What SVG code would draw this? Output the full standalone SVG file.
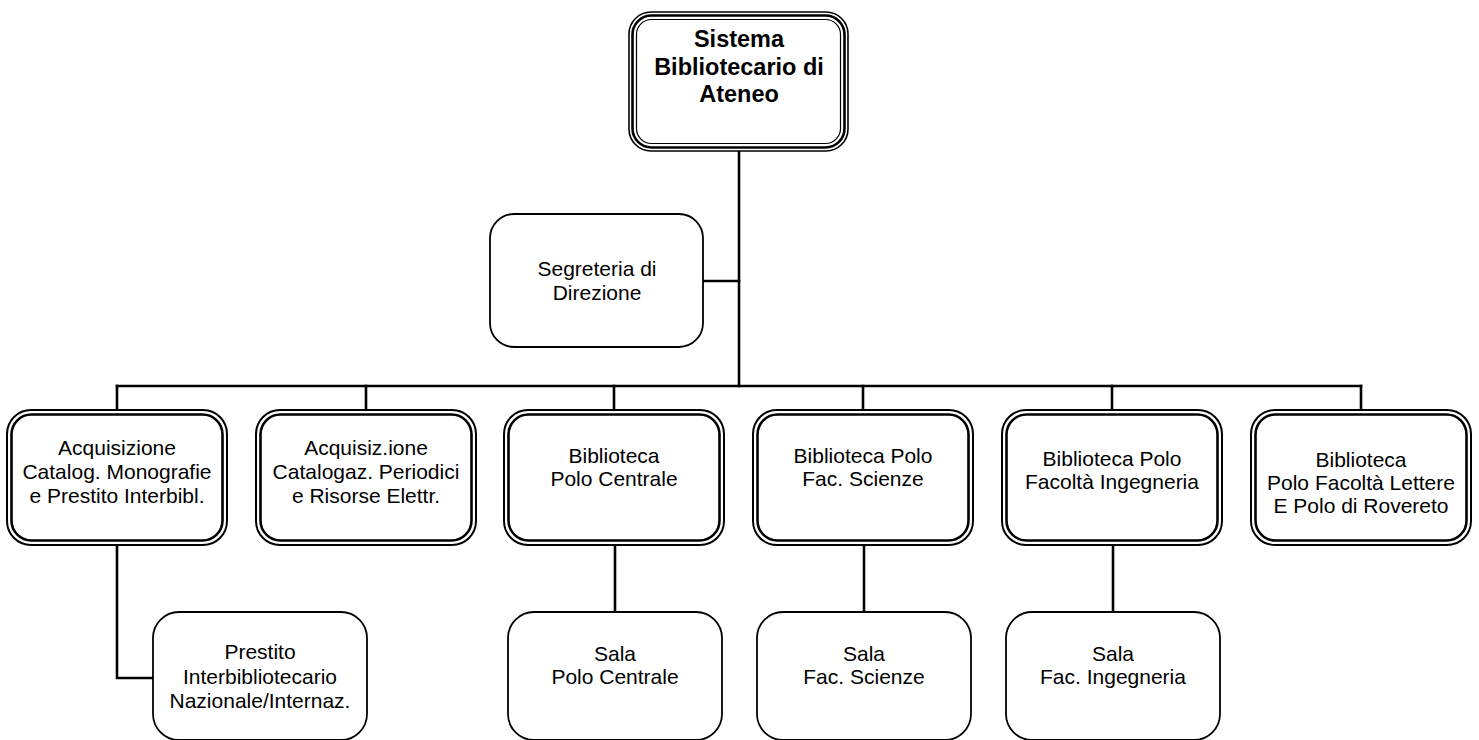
<svg xmlns="http://www.w3.org/2000/svg" width="1479" height="740" viewBox="0 0 1479 740">
  <style>
    .bg { fill: #ffffff; }
    .conn { fill: none; stroke: #000; stroke-width: 2.6; stroke-linecap: square; }
    .single { fill: #fff; stroke: #000; stroke-width: 1.8; }
    .dbl-out { fill: #fff; stroke: #000; stroke-width: 2; }
    .dbl-in { fill: none; stroke: #000; stroke-width: 2.6; }
    .tri-out { fill: #fff; stroke: #000; stroke-width: 1.6; }
    .tri-mid { fill: none; stroke: #000; stroke-width: 2.6; }
    .tri-in { fill: none; stroke: #000; stroke-width: 1.2; }
    text { font-family: "Liberation Sans", Arial, sans-serif; font-size: 21px; fill: #000; text-anchor: middle; }
    text.bold { font-weight: bold; font-size: 23.5px; }
  </style>

  <rect class="bg" x="0" y="0" width="1479" height="740"/>

  <!-- connectors -->
  <g id="connectors">
    <line class="conn" x1="739" y1="152" x2="739" y2="386"/>
    <line class="conn" x1="703" y1="281" x2="739" y2="281"/>
    <line class="conn" x1="117" y1="386" x2="1361" y2="386"/>
    <line class="conn" x1="117" y1="386" x2="117" y2="410"/>
    <line class="conn" x1="366" y1="386" x2="366" y2="410"/>
    <line class="conn" x1="614" y1="386" x2="614" y2="410"/>
    <line class="conn" x1="863" y1="386" x2="863" y2="410"/>
    <line class="conn" x1="1112" y1="386" x2="1112" y2="410"/>
    <line class="conn" x1="1361" y1="386" x2="1361" y2="410"/>
    <polyline class="conn" points="117,545 117,678 153,678"/>
    <line class="conn" x1="615" y1="545" x2="615" y2="612"/>
    <line class="conn" x1="864" y1="545" x2="864" y2="612"/>
    <line class="conn" x1="1113" y1="545" x2="1113" y2="612"/>
  </g>

  <!-- top node -->
  <g id="sistema">
    <rect class="tri-out" x="629" y="12" width="219" height="139" rx="22"/>
    <rect class="tri-mid" x="632.5" y="15.5" width="212" height="132" rx="19"/>
    <rect class="tri-in" x="636.5" y="19.5" width="204" height="124" rx="15"/>
    <text class="bold" x="739" y="47">Sistema</text>
    <text class="bold" x="739" y="75">Bibliotecario di</text>
    <text class="bold" x="739" y="102">Ateneo</text>
  </g>

  <g id="segreteria">
    <rect class="single" x="490" y="214" width="213" height="133" rx="24"/>
    <text x="597" y="276">Segreteria di</text>
    <text x="597" y="300">Direzione</text>
  </g>

  <!-- second level -->
  <g id="acq-monografie">
    <rect class="dbl-out" x="7" y="410" width="220" height="135" rx="24"/>
    <rect class="dbl-in" x="11.5" y="414.5" width="211" height="126" rx="20"/>
    <text x="117" y="455">Acquisizione</text>
    <text x="117" y="479">Catalog. Monografie</text>
    <text x="117" y="503">e Prestito Interbibl.</text>
  </g>

  <g id="acq-periodici">
    <rect class="dbl-out" x="256" y="410" width="220" height="135" rx="24"/>
    <rect class="dbl-in" x="260.5" y="414.5" width="211" height="126" rx="20"/>
    <text x="366" y="455">Acquisiz.ione</text>
    <text x="366" y="479">Catalogaz. Periodici</text>
    <text x="366" y="503">e Risorse Elettr.</text>
  </g>

  <g id="polo-centrale">
    <rect class="dbl-out" x="504" y="410" width="220" height="135" rx="24"/>
    <rect class="dbl-in" x="508.5" y="414.5" width="211" height="126" rx="20"/>
    <text x="614" y="463">Biblioteca</text>
    <text x="614" y="486">Polo Centrale</text>
  </g>

  <g id="polo-scienze">
    <rect class="dbl-out" x="753" y="410" width="220" height="135" rx="24"/>
    <rect class="dbl-in" x="757.5" y="414.5" width="211" height="126" rx="20"/>
    <text x="863" y="463">Biblioteca Polo</text>
    <text x="863" y="486">Fac. Scienze</text>
  </g>

  <g id="polo-ingegneria">
    <rect class="dbl-out" x="1002" y="410" width="220" height="135" rx="24"/>
    <rect class="dbl-in" x="1006.5" y="414.5" width="211" height="126" rx="20"/>
    <text x="1112" y="466">Biblioteca Polo</text>
    <text x="1112" y="489">Facoltà Ingegneria</text>
  </g>

  <g id="polo-lettere">
    <rect class="dbl-out" x="1251" y="410" width="220" height="135" rx="24"/>
    <rect class="dbl-in" x="1255.5" y="414.5" width="211" height="126" rx="20"/>
    <text x="1361" y="467">Biblioteca</text>
    <text x="1361" y="490">Polo Facoltà Lettere</text>
    <text x="1361" y="513">E Polo di Rovereto</text>
  </g>

  <!-- third level -->
  <g id="prestito">
    <rect class="single" x="153" y="612" width="214" height="128" rx="26"/>
    <text x="260" y="659">Prestito</text>
    <text x="260" y="684">Interbibliotecario</text>
    <text x="260" y="708">Nazionale/Internaz.</text>
  </g>

  <g id="sala-centrale">
    <rect class="single" x="508" y="612" width="214" height="128" rx="26"/>
    <text x="615" y="661">Sala</text>
    <text x="615" y="684">Polo Centrale</text>
  </g>

  <g id="sala-scienze">
    <rect class="single" x="757" y="612" width="214" height="128" rx="26"/>
    <text x="864" y="661">Sala</text>
    <text x="864" y="684">Fac. Scienze</text>
  </g>

  <g id="sala-ingegneria">
    <rect class="single" x="1006" y="612" width="214" height="128" rx="26"/>
    <text x="1113" y="661">Sala</text>
    <text x="1113" y="684">Fac. Ingegneria</text>
  </g>
</svg>
